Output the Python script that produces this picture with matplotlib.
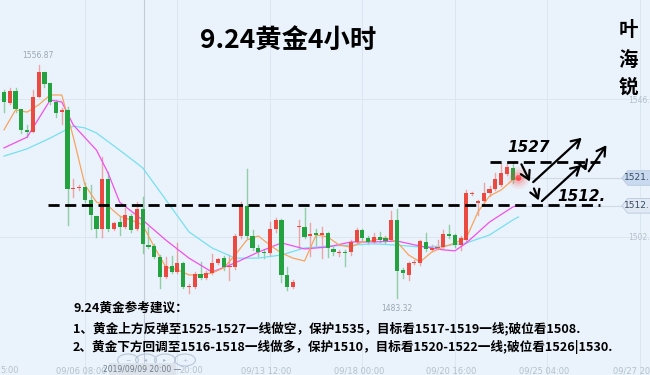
import matplotlib.pyplot as plt
from matplotlib.patches import Rectangle, Circle, Polygon
import numpy as np

# 4h gold candles (red = up, green = down)
opens = [1548.4, 1544.9, 1548.7, 1543.0, 1536.4, 1535.7, 1546.8, 1554.7, 1551.2, 1545.2,
         1542.0, 1542.7, 1517.7, 1518.0, 1518.4, 1514.3, 1509.2, 1505.1, 1520.9, 1505.1,
         1507.3, 1505.7, 1509.2, 1505.1, 1511.4, 1500.0, 1499.7, 1496.3, 1489.9, 1493.4,
         1491.5, 1494.4, 1486.8, 1486.8, 1490.9, 1489.6, 1491.2, 1494.4, 1495.9, 1493.1,
         1493.1, 1502.9, 1512.4, 1502.9, 1499.1, 1497.8, 1497.5, 1505.1, 1507.9, 1490.6,
         1486.8, 1505.7, 1505.7, 1502.9, 1503.8, 1503.2, 1503.8, 1498.8, 1497.5, 1497.8,
         1497.8, 1501.0, 1504.8, 1502.3, 1501.0, 1502.6, 1502.3, 1501.6, 1507.9, 1492.2,
         1490.6, 1494.4, 1494.4, 1501.0, 1498.5, 1499.1, 1499.4, 1503.5, 1503.2, 1500.0,
         1501.6, 1516.1, 1513.3, 1513.9, 1516.5, 1517.7, 1519.0, 1522.5, 1524.4, 1520.6]
closes = [1545.2, 1548.7, 1543.0, 1536.4, 1535.7, 1546.8, 1554.7, 1550.9, 1545.2, 1541.7,
          1542.7, 1517.7, 1518.0, 1518.4, 1514.3, 1509.5, 1505.1, 1520.9, 1505.1, 1507.0,
          1505.7, 1509.5, 1504.8, 1511.4, 1500.4, 1499.4, 1496.3, 1489.9, 1493.4, 1491.5,
          1494.4, 1486.8, 1487.1, 1490.9, 1489.6, 1491.2, 1494.4, 1495.6, 1493.1, 1493.4,
          1502.9, 1512.4, 1502.9, 1499.1, 1497.8, 1497.5, 1505.1, 1507.9, 1490.6, 1486.8,
          1488.4, 1506.1, 1502.6, 1503.5, 1503.2, 1503.8, 1499.1, 1497.8, 1497.8, 1497.5,
          1501.0, 1504.8, 1502.3, 1501.0, 1502.6, 1501.6, 1501.3, 1507.9, 1491.8, 1491.2,
          1494.4, 1494.7, 1501.3, 1498.8, 1499.1, 1499.4, 1503.5, 1502.9, 1500.0, 1502.3,
          1516.5, 1516.5, 1513.9, 1516.5, 1517.7, 1520.9, 1522.8, 1524.7, 1520.6, 1521.2]
highs = [1549.0, 1549.6, 1549.6, 1543.0, 1537.9, 1549.0, 1556.87, 1554.7, 1551.2, 1545.8,
         1543.3, 1543.6, 1520.9, 1519.0, 1519.6, 1519.0, 1509.2, 1527.8, 1523.1, 1507.3,
         1508.9, 1511.7, 1509.8, 1513.6, 1515.2, 1505.7, 1500.4, 1496.9, 1496.3, 1496.6,
         1500.7, 1494.7, 1487.7, 1491.5, 1494.7, 1491.8, 1497.2, 1495.9, 1496.6, 1496.9,
         1503.5, 1513.6, 1524.0, 1504.8, 1500.0, 1498.5, 1507.3, 1508.6, 1508.3, 1493.1,
         1489.0, 1507.9, 1511.7, 1507.0, 1505.1, 1505.7, 1504.2, 1499.4, 1498.5, 1498.5,
         1501.6, 1505.4, 1505.1, 1502.9, 1503.8, 1504.2, 1502.9, 1510.8, 1511.4, 1492.8,
         1494.7, 1495.3, 1501.6, 1503.8, 1500.0, 1501.6, 1504.8, 1506.4, 1503.5, 1502.9,
         1517.4, 1516.8, 1514.3, 1519.6, 1518.7, 1522.8, 1525.9, 1525.9, 1525.9, 1521.5]
lows = [1542.0, 1544.5, 1542.0, 1535.4, 1534.1, 1535.7, 1546.8, 1549.9, 1544.6, 1540.5,
        1538.2, 1506.4, 1515.2, 1517.4, 1513.6, 1505.1, 1502.6, 1502.6, 1504.5, 1504.8,
        1503.2, 1505.4, 1504.2, 1504.8, 1497.5, 1499.1, 1495.9, 1486.5, 1489.6, 1491.2,
        1491.2, 1486.5, 1484.9, 1486.5, 1489.3, 1489.3, 1490.9, 1494.1, 1492.2, 1489.0,
        1492.5, 1502.3, 1502.3, 1498.5, 1496.6, 1495.9, 1496.9, 1504.2, 1488.4, 1485.9,
        1486.5, 1499.1, 1502.3, 1496.6, 1500.0, 1495.9, 1496.3, 1496.9, 1496.6, 1493.4,
        1496.9, 1500.7, 1501.6, 1500.4, 1500.7, 1501.0, 1500.7, 1501.3, 1483.32, 1489.6,
        1489.0, 1494.1, 1493.7, 1498.2, 1498.2, 1498.8, 1499.1, 1502.3, 1499.4, 1498.5,
        1501.3, 1515.8, 1509.5, 1512.7, 1515.5, 1517.4, 1518.7, 1522.1, 1519.6, 1520.6]

# moving averages
ma5_idx = [0, 2, 4, 6, 8, 10, 12, 14, 16, 18, 20, 22, 24, 26, 28, 30, 32, 34, 36, 38, 40, 42, 44,
           46, 48, 50, 52, 54, 56, 58, 60, 62, 64, 66, 68, 70, 72, 74, 76, 78, 80, 82, 84, 86, 88, 89]
ma5 = [1536.4, 1542.7, 1542.0, 1544.3, 1547.4, 1547.4, 1534.1, 1519.0, 1513.6, 1512.4, 1509.2,
       1507.9, 1506.4, 1499.4, 1493.1, 1492.2, 1490.6, 1490.6, 1491.2, 1492.8, 1496.9, 1501.6,
       1502.9, 1500.0, 1497.5, 1495.9, 1495.0, 1503.2, 1502.6, 1500.0, 1499.4, 1501.0, 1501.6,
       1502.3, 1501.0, 1496.9, 1494.7, 1497.8, 1499.4, 1500.7, 1502.3, 1510.5, 1515.5, 1517.4,
       1520.6, 1521.2]
ma10_idx = [0, 4, 8, 10, 12, 16, 18, 20, 24, 28, 32, 36, 40, 44, 48, 52, 56, 60, 64, 68, 72, 76,
            78, 80, 84, 88, 89]
ma10 = [1530.7, 1534.1, 1545.8, 1545.2, 1537.9, 1530.0, 1522.8, 1513.6, 1507.9, 1501.6, 1495.9,
        1491.5, 1494.4, 1497.8, 1500.7, 1498.8, 1499.4, 1501.0, 1501.0, 1501.3, 1499.7, 1498.5,
        1498.2, 1500.7, 1507.3, 1512.0, 1512.7]
ma20_idx = [0, 4, 8, 12, 14, 16, 20, 24, 28, 32, 36, 40, 44, 48, 52, 56, 60, 64, 68, 72, 76, 80,
            84, 88, 89]
ma20 = [1528.1, 1530.4, 1533.8, 1537.6, 1537.0, 1535.4, 1530.0, 1524.4, 1514.3, 1504.2, 1499.1,
        1495.9, 1495.9, 1496.9, 1499.1, 1499.7, 1500.0, 1500.4, 1500.0, 1499.4, 1499.7, 1500.7,
        1503.2, 1507.9, 1508.9]

# visible parts of the time axis labels (ends cut by the frame / crosshair tag)
time_labels = ['5:00', '09/06 08:00', '20:00', '09/13 12:00', '09/18 00:00',
               '09/20 16:00', '09/25 04:00', '09/27 20']
label_idx = [-2, 14, 30, 46, 62, 78, 94, 110]
price_grid = [1546.1, 1502.6]
price_text = ['1546.', '1502.']

level_high = 1526.3
level_low = 1512.7
last_price = 1521.2
tag_low = 1512.4

W, H = 650, 375
BG = '#eaf3fc'
UP = '#ea4a3f'
DOWN = '#23a23f'

fig = plt.figure(figsize=(6.5, 3.75), dpi=100, facecolor=BG)
ax = fig.add_axes([0, 0, 1, 1])
ax.set_facecolor(BG)
ax.set_xlim(-0.69, 111.76)
ax.set_ylim(1459.0, 1577.39)
ax.axis('off')

cjk = ['Noto Sans CJK SC', 'DejaVu Sans']


def px(x, y):
    return x / W, 1 - y / H


# grid
for i in label_idx:
    ax.axvline(i, color='#dbe6f1', lw=0.7, zorder=0)
for p in price_grid:
    ax.axhline(p, color='#dbe6f1', lw=0.7, zorder=0)
ax.axvline(24.2, color='#c3ccd6', lw=0.8, zorder=0)

# price lines
ax.plot([89, 111.76], [last_price, last_price], color='#cfd9e4', lw=0.8, zorder=0)
ax.plot([89, 111.76], [tag_low, tag_low], color='#cfd9e4', lw=0.8, zorder=0)

# candles
for i, (o, h, l, c) in enumerate(zip(opens, highs, lows, closes)):
    col = UP if c >= o else DOWN
    ax.plot([i, i], [l, h], color=col, lw=1.0, alpha=0.45, zorder=2)
    lo, hi = min(o, c), max(o, c)
    ax.add_patch(Rectangle((i - 0.36, lo), 0.72, max(hi - lo, 0.35), facecolor=col,
                           edgecolor='none', zorder=3))

# moving averages
ax.plot(ma20_idx, ma20, color='#76e0f0', lw=0.9, zorder=2)
ax.plot(ma10_idx, ma10, color='#f050ee', lw=0.9, zorder=2)
ax.plot(ma5_idx, ma5, color='#f7a45e', lw=0.9, zorder=2)

# glowing last price dot
for s, a in [(260, 0.08), (150, 0.12), (70, 0.2), (18, 0.9)]:
    ax.scatter([89], [last_price], s=s, color='#ff4d4d', alpha=a, edgecolors='none', zorder=4)

# hand-drawn levels
ax.plot([7.6, 103.1], [level_low, level_low], color='black', lw=2.0, dashes=(4, 2), zorder=5)
ax.plot([84.1, 103.1], [level_high, level_high], color='black', lw=2.0, dashes=(4, 2), zorder=5)

arrows = [
    [(89.3, 1526.3), (91.2, 1519.3)],
    [(91.2, 1519.3), (100.3, 1534.5)],
    [(91.5, 1518.7), (92.7, 1513.3)],
    [(92.7, 1513.3), (100.2, 1525.9)],
    [(100.2, 1525.9), (100.9, 1522.6)],
    [(100.9, 1522.6), (104.5, 1532.3)],
]
for (x0, y0), (x1, y1) in arrows:
    ax.annotate('', xy=(x1, y1), xytext=(x0, y0),
                arrowprops=dict(arrowstyle='->,head_length=0.6,head_width=0.35',
                                color='black', lw=1.6), zorder=6)

ax.text(90.7, 1530.9, '1527', fontsize=11, fontweight='bold', style='italic',
        ha='center', va='center', zorder=6)
ax.text(99.9, 1515.4, '1512.', fontsize=11, fontweight='bold', style='italic',
        ha='center', va='center', zorder=6)

# extreme labels
ax.text(5.9, 1558.5, '1556.87', fontsize=5.5, color='#9aa6b2', ha='center', va='bottom')
ax.text(68, 1481.5, '1483.32', fontsize=5.5, color='#9aa6b2', ha='center', va='top')

# right axis labels and tags
for p, t in zip(price_grid, price_text):
    ax.text(111.7, p - 0.3, t, fontsize=5.5, color='#b5c0cb', ha='right', va='center', zorder=1)
for p, fc in [(last_price, '#c9daf0'), (tag_low, '#e1eaf4')]:
    yb, yt = p - 2.3, p + 2.3
    ax.add_patch(Polygon([(106.9, p), (107.9, yt), (112, yt), (112, yb), (107.9, yb)],
                         closed=True, facecolor=fc, edgecolor='#b8c8dc', lw=0.6, zorder=7))
    ax.text(111.7, p, f'{p:.1f}'[:5], fontsize=6.5, color='#34495e', ha='right',
            va='center', zorder=8)

# time axis
label_x = [-0.62, 13.4, 30.3, 45.4, 61.4, 77.4, 93.4, 111.7]
label_ha = ['left', 'center', 'left', 'center', 'center', 'center', 'center', 'right']
for x, lab, ha in zip(label_x, time_labels, label_ha):
    ax.text(x, 1460.3, lab, fontsize=6, color='#b5c0cb', ha=ha, va='center')
fig.patches.append(Rectangle(px(109, 375), 67 / W, 12 / H, transform=fig.transFigure,
                             facecolor='#dde3ea', edgecolor='none', zorder=3))
fig.text(*px(142, 369), '2019/09/09 20:00 —', fontsize=5.5, color='#6d7b89',
         ha='center', va='center', zorder=4)

# navigation buttons
for x, sym in zip([128, 146, 165, 185], ['−', '◂', '▸', '+']):
    fig.patches.append(Circle(px(x, 360), 6 / H, transform=fig.transFigure,
                              facecolor='none', edgecolor='#b7c6d8', lw=0.8))
    fig.text(*px(x, 360), sym, fontsize=4.5, color='#a8b8cb', ha='center', va='center')

# titles and notes
fig.text(*px(288, 40), '9.24黄金4小时', fontsize=19, fontweight='bold', style='italic',
         family=cjk, ha='center', va='center')
for y, ch in zip([30, 60, 87], '叶海锐'):
    fig.text(*px(628, y), ch, fontsize=14, fontweight='bold', family=cjk, ha='center', va='center')

notes = ['9.24黄金参考建议：',
         '1、黄金上方反弹至1525-1527一线做空，保护1535，目标看1517-1519一线;破位看1508.',
         '2、黄金下方回调至1516-1518一线做多，保护1510，目标看1520-1522一线;破位看1526|1530.']
for y, line in zip([308, 328, 347], notes):
    fig.text(*px(73, y), line, fontsize=9.1, fontweight='bold', style='italic', family=cjk,
             ha='left', va='center')

fig.savefig('out.png', dpi=100, facecolor=BG)
